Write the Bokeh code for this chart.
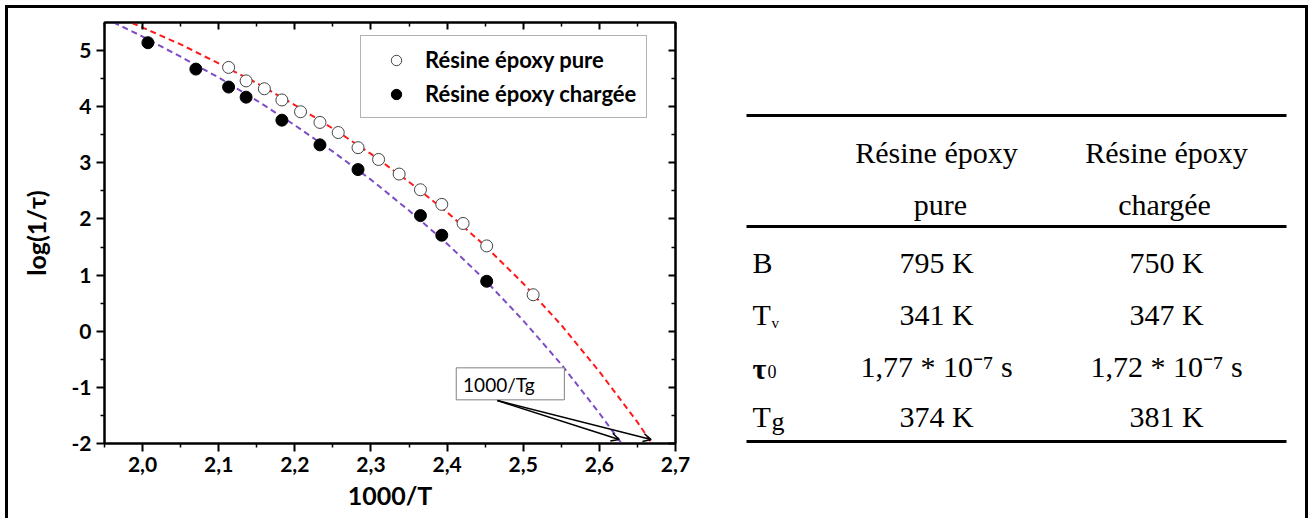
from bokeh.plotting import figure
from bokeh.layouts import row
from bokeh.models import (FixedTicker, LinearAxis, Legend, LegendItem, Arrow,
                          OpenHead, Range1d)
from bokeh.core.properties import value
from bokeh.embed import file_html
from bokeh.resources import INLINE

# ---------------- data ----------------
x_pure = [2.113, 2.136, 2.160, 2.183, 2.2075, 2.233, 2.257, 2.283, 2.310,
          2.337, 2.365, 2.393, 2.421, 2.452, 2.513]
y_pure = [4.70, 4.46, 4.32, 4.12, 3.91, 3.72, 3.54, 3.27, 3.06,
          2.80, 2.52, 2.26, 1.92, 1.52, 0.65]
x_charged = [2.007, 2.070, 2.113, 2.136, 2.183, 2.233, 2.283, 2.365, 2.393, 2.452]
y_charged = [5.14, 4.67, 4.35, 4.17, 3.76, 3.32, 2.88, 2.06, 1.71, 0.89]

fit_x_pure = [1.95, 2.00, 2.05, 2.10, 2.15, 2.20, 2.25, 2.30, 2.35, 2.40,
              2.45, 2.50, 2.55, 2.60, 2.65, 2.70]
fit_y_pure = [5.70, 5.41, 5.11, 4.77, 4.42, 4.03, 3.61, 3.16, 2.66, 2.12,
              1.52, 0.85, 0.11, -0.72, -1.62, -2.62]
fit_x_charged = [1.95, 2.00, 2.05, 2.10, 2.15, 2.20, 2.25, 2.30, 2.35, 2.40,
                 2.45, 2.50, 2.55, 2.60, 2.65]
fit_y_charged = [5.58, 5.25, 4.89, 4.52, 4.11, 3.67, 3.20, 2.70, 2.15, 1.56,
                 0.91, 0.19, -0.59, -1.46, -2.38]

series_labels = ["Résine époxy pure", "Résine époxy chargée"]

x_ticks = [2.0, 2.1, 2.2, 2.3, 2.4, 2.5, 2.6, 2.7]
x_tick_labels = ["2,0", "2,1", "2,2", "2,3", "2,4", "2,5", "2,6", "2,7"]
x_minor = [1.95, 2.05, 2.15, 2.25, 2.35, 2.45, 2.55, 2.65]
y_ticks = [-2, -1, 0, 1, 2, 3, 4, 5]
y_tick_labels = ["-2", "-1", "0", "1", "2", "3", "4", "5"]
y_minor = [-1.5, -0.5, 0.5, 1.5, 2.5, 3.5, 4.5]

tg_label = "1000/Tg"
tg_arrow_start = (2.466, -1.235)
tg_arrow_ends = [(2.626, -1.93), (2.668, -1.93)]

# table
col_head_1 = ["Résine époxy", "Résine époxy"]
col_head_2 = ["pure", "chargée"]
row_B = ["795 K", "750 K"]
row_Tv = ["341 K", "347 K"]
row_tau = ["1,77 * 10\u207b\u2077 s", "1,72 * 10\u207b\u2077 s"]
row_Tg = ["374 K", "381 K"]

# ---------------- layout constants ----------------
FRAME_TOP, FRAME_BOTTOM = 22, 443      # page pixels
ORIGIN = 8                              # content origin (margin + border)
H = 510
MB_TOP = FRAME_TOP - ORIGIN
MB_BOTTOM = ORIGIN + H - FRAME_BOTTOM

# ---------------- chart ----------------
SANS = "Lato"
p = figure(width=703, height=H, x_range=Range1d(1.95, 2.70), y_range=Range1d(-2, 5.5),
           output_backend="svg", toolbar_location=None,
           min_border_left=96, min_border_right=36,
           min_border_top=MB_TOP, min_border_bottom=MB_BOTTOM)
p.xgrid.visible = False
p.ygrid.visible = False
p.outline_line_color = "black"
p.outline_line_width = 2
p.background_fill_color = "white"
p.border_fill_color = "white"


def style_axis(ax, ticks, minor, labels, outward):
    ax.ticker = FixedTicker(ticks=ticks, minor_ticks=minor)
    ax.axis_line_width = 2
    ax.axis_line_color = "black"
    ax.major_tick_line_width = 2
    ax.minor_tick_line_width = 1.5
    ax.major_tick_line_color = "black"
    ax.minor_tick_line_color = "black"
    if outward:
        ax.major_tick_out, ax.major_tick_in = 8, 0
        ax.minor_tick_out, ax.minor_tick_in = 4, 0
    else:
        ax.major_tick_out, ax.major_tick_in = 0, 7
        ax.minor_tick_out, ax.minor_tick_in = 0, 4
    ax.major_label_overrides = {t: l for t, l in zip(ticks, labels)}
    ax.major_label_text_font = SANS
    ax.major_label_text_font_style = "bold"
    ax.major_label_text_font_size = "21px"
    ax.major_label_text_color = "black"
    ax.major_label_standoff = 5
    ax.axis_label_text_font = SANS
    ax.axis_label_text_font_style = "bold"
    ax.axis_label_text_font_size = "25px"
    ax.axis_label_text_color = "black"


style_axis(p.xaxis[0], x_ticks, x_minor, x_tick_labels, True)
style_axis(p.yaxis[0], y_ticks, y_minor, y_tick_labels, True)
p.xaxis[0].axis_label = "1000/T"
p.xaxis[0].axis_label_standoff = 5
p.yaxis[0].axis_label = "log(1/\u03c4)"
p.yaxis[0].axis_label_standoff = 17

top_ax = LinearAxis()
style_axis(top_ax, x_ticks, x_minor, [""] * len(x_ticks), False)
p.add_layout(top_ax, "above")
right_ax = LinearAxis()
style_axis(right_ax, y_ticks, y_minor, [""] * len(y_ticks), False)
p.add_layout(right_ax, "right")

p.line(fit_x_pure, fit_y_pure, line_color="#ff1a1a", line_width=2, line_dash="6 4")
p.line(fit_x_charged, fit_y_charged, line_color="#7d4cc6", line_width=2, line_dash="6 4")

r_pure = p.scatter(x_pure, y_pure, size=12, marker="circle", fill_color="white",
                   line_color="#444444", line_width=1)
r_charged = p.scatter(x_charged, y_charged, size=12, marker="circle", fill_color="black",
                      line_color="black", line_width=1)

legend = Legend(items=[LegendItem(label=series_labels[0], renderers=[r_pure]),
                       LegendItem(label=series_labels[1], renderers=[r_charged])],
                location=(256, 325), padding=10, spacing=7, margin=0,
                glyph_width=50, glyph_height=26, label_height=26, label_standoff=4,
                label_text_font=SANS, label_text_font_style="bold",
                label_text_font_size="22px", label_text_color="black",
                border_line_color="#666666", border_line_width=1,
                background_fill_color="white", background_fill_alpha=1)
p.add_layout(legend)

# annotation box "1000/Tg"
p.quad(left=[2.412], right=[2.554], top=[-0.652], bottom=[-1.222],
       fill_color="white", line_color="#808080", line_width=1)
p.text(x=[2.421], y=[-0.944], text=[tg_label], text_font=value(SANS),
       text_font_size="19px", text_baseline="middle", text_align="left", text_color="black")
for (xe, ye) in tg_arrow_ends:
    p.add_layout(Arrow(end=OpenHead(size=8, line_width=1.5, line_color="black"),
                       x_start=tg_arrow_start[0], y_start=tg_arrow_start[1],
                       x_end=xe, y_end=ye, line_width=1.5, line_color="black"))

# ---------------- table ----------------
SERIF = "Liberation Serif"
t = figure(width=594, height=H, x_range=Range1d(711, 1305),
           y_range=Range1d(FRAME_BOTTOM, FRAME_TOP),
           output_backend="svg", toolbar_location=None,
           min_border_left=0, min_border_right=0,
           min_border_top=MB_TOP, min_border_bottom=MB_BOTTOM)
t.axis.visible = False
t.xgrid.visible = False
t.ygrid.visible = False
t.outline_line_color = None
t.background_fill_color = "white"
t.border_fill_color = "white"

rule_y = [115, 226, 441]
t.segment(x0=[746] * 3, x1=[1286] * 3, y0=rule_y, y1=rule_y, line_width=3, line_color="black")

col_x = [936, 1166]
FS = "30px"


def ttext(xs, ys, texts, size=FS, style="normal", align="center"):
    t.text(x=xs, y=ys, text=texts, text_font=value(SERIF), text_font_size=size,
           text_font_style=style, text_align=align, text_baseline="middle",
           text_color="black")


ttext(col_x, [152, 152], col_head_1)
ttext([940, 1164], [204, 204], col_head_2)
ttext(col_x, [262, 262], row_B)
ttext(col_x, [314, 314], row_Tv)
ttext(col_x, [366, 366], row_tau)
ttext(col_x, [416, 416], row_Tg)

# row labels
ttext([752], [262], ["B"], align="left")
ttext([752], [314], ["T"], align="left")
ttext([771], [322], ["v"], size="15px", align="left")
ttext([752], [368], ["\u03c4"], style="bold", align="left")
ttext([767], [371], ["0"], size="18px", align="left")
ttext([752], [416], ["T"], align="left")
ttext([771], [421], ["g"], size="26px", align="left")

layout = row(p, t, styles={"border-top": "3px solid black",
                           "border-left": "3px solid black",
                           "border-right": "3px solid black",
                           "background-color": "white",
                           "margin": "5px 0 0 5px"})

open("out.html", "w").write(file_html(layout, INLINE))
